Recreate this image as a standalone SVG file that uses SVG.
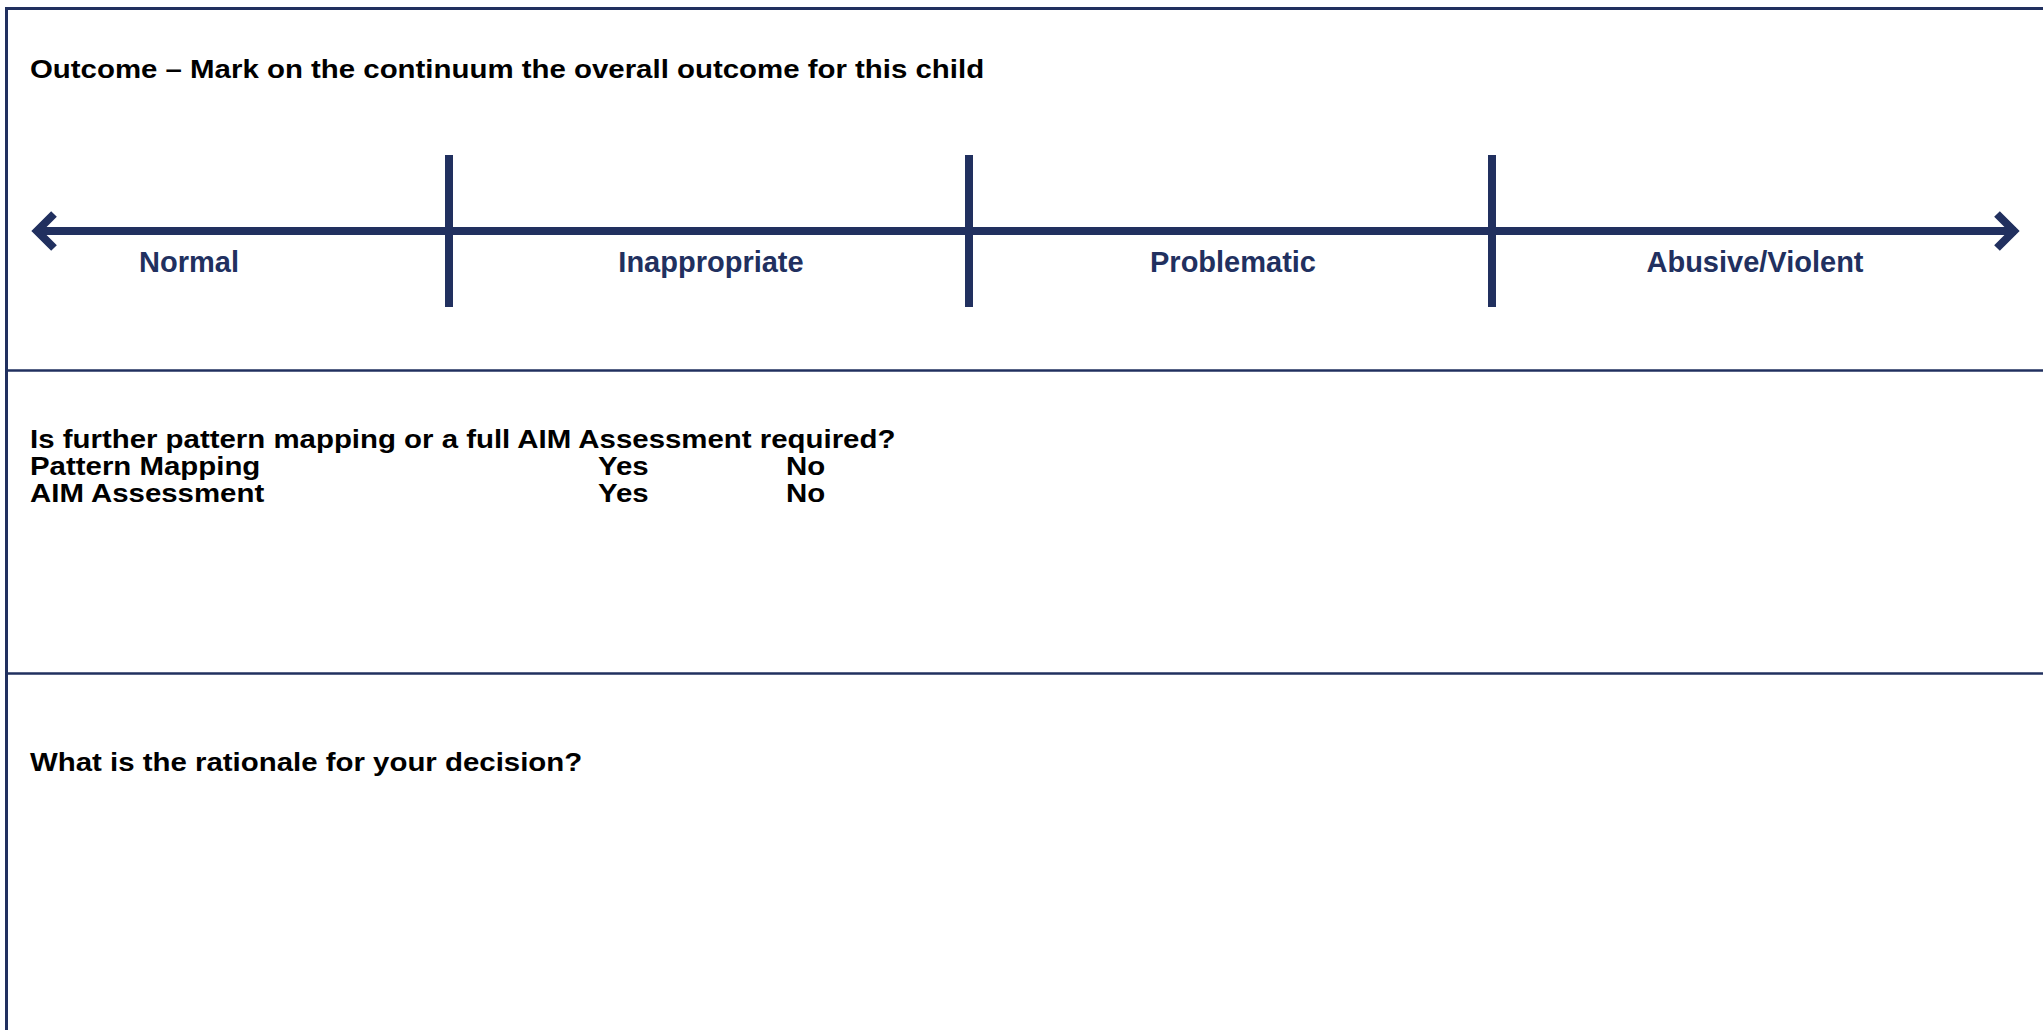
<svg xmlns="http://www.w3.org/2000/svg" width="2043" height="1030" viewBox="0 0 2043 1030">
  <style>
    .frame { stroke: #21305f; stroke-width: 3; fill: none; }
    .rule { stroke: #21305f; stroke-width: 2.6; fill: none; }
    .axis { stroke: #21305f; stroke-width: 8; fill: none; }
    .tick { stroke: #21305f; stroke-width: 8; fill: none; }
    .head { stroke: #21305f; stroke-width: 8; fill: none; stroke-linejoin: miter; stroke-miterlimit: 10; }
    .q { font-family: "Liberation Sans", Arial, sans-serif; font-weight: bold; font-size: 26.5px; fill: #000; }
    .lbl { font-family: "Liberation Sans", Arial, sans-serif; font-weight: bold; font-size: 29px; fill: #21305f; text-anchor: middle; }
  </style>
  <rect width="2043" height="1030" fill="#fff"/>

  <g id="frame">
    <line class="frame" x1="6.5" y1="7" x2="6.5" y2="1030"/>
    <line class="frame" x1="5" y1="8.5" x2="2043" y2="8.5"/>
    <line class="rule" x1="5" y1="370.5" x2="2043" y2="370.5"/>
    <line class="rule" x1="5" y1="673.5" x2="2043" y2="673.5"/>
  </g>

  <g id="outcome-section">
    <g transform="translate(30,78) scale(1.11,1)">
      <text class="q" x="0" y="0">Outcome – Mark on the continuum the overall outcome for this child</text>
    </g>
  </g>

  <g id="connectors">
    <line class="axis" x1="36" y1="231" x2="2016" y2="231"/>
    <polyline class="head" points="54,214 37,231 54,248"/>
    <polyline class="head" points="1997,214 2014,231 1997,248"/>
    <line class="tick" x1="449" y1="155" x2="449" y2="307"/>
    <line class="tick" x1="969" y1="155" x2="969" y2="307"/>
    <line class="tick" x1="1492" y1="155" x2="1492" y2="307"/>
  </g>

  <g id="label-normal"><text class="lbl" x="189" y="272">Normal</text></g>
  <g id="label-inappropriate"><text class="lbl" x="711" y="272">Inappropriate</text></g>
  <g id="label-problematic"><text class="lbl" x="1233" y="272">Problematic</text></g>
  <g id="label-abusive"><text class="lbl" x="1755" y="272">Abusive/Violent</text></g>

  <g id="assessment-section">
    <g transform="translate(30,448) scale(1.11,1)">
      <text class="q" x="0" y="0">Is further pattern mapping or a full AIM Assessment required?</text>
    </g>
    <g transform="translate(30,475) scale(1.11,1)">
      <text class="q" x="0" y="0">Pattern Mapping</text>
    </g>
    <g transform="translate(598,475) scale(1.11,1)">
      <text class="q" x="0" y="0">Yes</text>
    </g>
    <g transform="translate(786,475) scale(1.11,1)">
      <text class="q" x="0" y="0">No</text>
    </g>
    <g transform="translate(30,502) scale(1.11,1)">
      <text class="q" x="0" y="0">AIM Assessment</text>
    </g>
    <g transform="translate(598,502) scale(1.11,1)">
      <text class="q" x="0" y="0">Yes</text>
    </g>
    <g transform="translate(786,502) scale(1.11,1)">
      <text class="q" x="0" y="0">No</text>
    </g>
  </g>

  <g id="rationale-section">
    <g transform="translate(30,771) scale(1.11,1)">
      <text class="q" x="0" y="0">What is the rationale for your decision?</text>
    </g>
  </g>
</svg>
